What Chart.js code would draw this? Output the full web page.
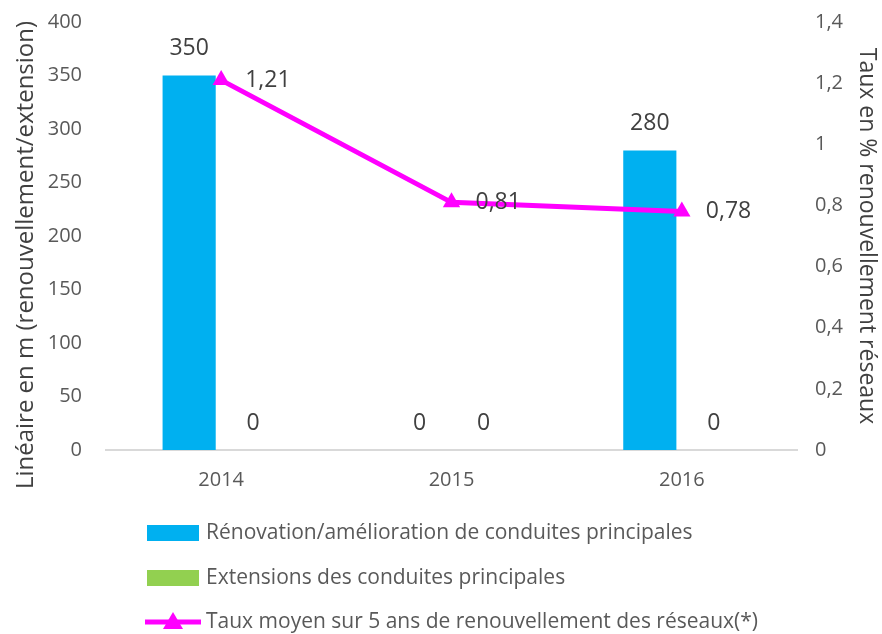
<!DOCTYPE html>
<html lang="fr">
<head>
    <meta charset="UTF-8">
    <title>Renouvellement des réseaux</title>
    <script src="https://cdn.jsdelivr.net/npm/chart.js"></script>
    <style>
        html, body { margin: 0; padding: 0; background: #fff; }
        .chart-box { width: 882px; height: 634px; position: relative; }
    </style>
</head>
<body>
<div class="chart-box">
    <canvas id="reseauChart"></canvas>
</div>
<script>
// --- data ---
const years = ['2014', '2015', '2016'];
const renovation = [350, 0, 280];
const extensions = [0, 0, 0];
const tauxMoyen = [1.21, 0.81, 0.78];

const seriesNames = [
    'Rénovation/amélioration de conduites principales',
    'Extensions des conduites principales',
    'Taux moyen sur 5 ans de renouvellement des réseaux(*)'
];
const leftTitle = 'Linéaire en m (renouvellement/extension)';
const rightTitle = 'Taux en % renouvellement réseaux';

const FONT = "'Open Sans', sans-serif";
const TEXT = '#404040';

function frNumber(v) {
    return String(v).replace('.', ',');
}

// value labels, drawn on the canvas
const valueLabels = {
    id: 'valueLabels',
    afterDatasetsDraw(chart) {
        const ctx = chart.ctx;
        ctx.save();
        ctx.fillStyle = TEXT;
        ctx.font = '23px ' + FONT;
        ctx.textBaseline = 'middle';
        chart.data.datasets.forEach((ds, i) => {
            const meta = chart.getDatasetMeta(i);
            meta.data.forEach((el, j) => {
                const v = ds.data[j];
                if (ds.type === 'line') {
                    ctx.textAlign = 'left';
                    ctx.fillText(frNumber(v), el.x + 24, el.y);
                } else {
                    ctx.textAlign = 'center';
                    ctx.fillText(frNumber(v), el.x, el.y - 27);
                }
            });
        });
        ctx.restore();
    }
};

// left axis title, sits a bit lower than the plot centre in the original
const leftAxisTitle = {
    id: 'leftAxisTitle',
    afterDraw(chart) {
        const ctx = chart.ctx;
        ctx.save();
        ctx.translate(26, 255);
        ctx.rotate(-Math.PI / 2);
        ctx.font = '24px ' + FONT;
        ctx.fillStyle = TEXT;
        ctx.textAlign = 'center';
        ctx.textBaseline = 'middle';
        ctx.fillText(leftTitle, 0, 0);
        ctx.restore();
    }
};

// vertical legend below the plot
const stackedLegend = {
    id: 'stackedLegend',
    afterDraw(chart) {
        const ctx = chart.ctx;
        const x0 = 147;
        const rowY = [533, 578, 622];
        ctx.save();
        ctx.font = '21px ' + FONT;
        ctx.textBaseline = 'middle';
        ctx.textAlign = 'left';
        chart.data.datasets.forEach((ds, i) => {
            const y = rowY[i];
            if (ds.type === 'line') {
                ctx.strokeStyle = ds.borderColor;
                ctx.lineWidth = 5;
                ctx.beginPath();
                ctx.moveTo(x0 - 2, y);
                ctx.lineTo(x0 + 54, y);
                ctx.stroke();
                ctx.fillStyle = ds.borderColor;
                ctx.beginPath();
                ctx.moveTo(x0 + 26, y - 10);
                ctx.lineTo(x0 + 36, y + 7);
                ctx.lineTo(x0 + 16, y + 7);
                ctx.closePath();
                ctx.fill();
            } else {
                ctx.fillStyle = ds.backgroundColor;
                ctx.fillRect(x0, y - 8, 52, 16);
            }
            ctx.fillStyle = '#595959';
            ctx.fillText(ds.label, x0 + 59, y);
        });
        ctx.restore();
    }
};

const ctx = document.getElementById('reseauChart').getContext('2d');
new Chart(ctx, {
    data: {
        labels: years,
        datasets: [
            {
                type: 'bar',
                label: seriesNames[0],
                data: renovation,
                yAxisID: 'y',
                backgroundColor: '#00B0F0',
                categoryPercentage: 0.556,
                barPercentage: 0.83,
                order: 1
            },
            {
                type: 'bar',
                label: seriesNames[1],
                data: extensions,
                yAxisID: 'y',
                backgroundColor: '#92D050',
                categoryPercentage: 0.556,
                barPercentage: 0.83,
                order: 1
            },
            {
                type: 'line',
                label: seriesNames[2],
                data: tauxMoyen,
                yAxisID: 'y1',
                borderColor: '#FF00FF',
                backgroundColor: '#FF00FF',
                borderWidth: 5,
                pointStyle: 'triangle',
                pointRadius: 10,
                pointBorderWidth: 0,
                tension: 0,
                order: 0
            }
        ]
    },
    options: {
        responsive: true,
        maintainAspectRatio: false,
        animation: false,
        layout: { padding: { left: 12, right: 2, top: 22, bottom: 124 } },
        plugins: {
            legend: { display: false },
            tooltip: { enabled: false }
        },
        scales: {
            x: {
                grid: { display: false, drawTicks: false },
                border: { display: true, color: '#D9D9D9', width: 2 },
                ticks: { color: '#595959', font: { family: FONT, size: 20 }, padding: 18 }
            },
            y: {
                position: 'left',
                min: 0,
                max: 400,
                grid: { display: false, drawTicks: false },
                border: { display: false },
                ticks: { stepSize: 50, color: '#595959', font: { family: FONT, size: 20 }, padding: 24 },
                afterFit(scale) {
                    scale.width = 94;
                    scale.paddingTop = 0;
                    scale.paddingBottom = 0;
                }
            },
            y1: {
                position: 'right',
                min: 0,
                max: 1.4,
                grid: { display: false, drawTicks: false },
                border: { display: false },
                ticks: {
                    stepSize: 0.2,
                    color: '#595959',
                    font: { family: FONT, size: 20 },
                    padding: 18,
                    callback: v => frNumber(Math.round(v * 10) / 10)
                },
                title: {
                    display: true,
                    text: rightTitle,
                    color: TEXT,
                    font: { family: FONT, size: 23 },
                    padding: { top: 0, bottom: 0 }
                },
                afterFit(scale) {
                    scale.width = 83;
                    scale.paddingTop = 0;
                    scale.paddingBottom = 0;
                }
            }
        }
    },
    plugins: [valueLabels, leftAxisTitle, stackedLegend]
});
</script>
</body>
</html>
